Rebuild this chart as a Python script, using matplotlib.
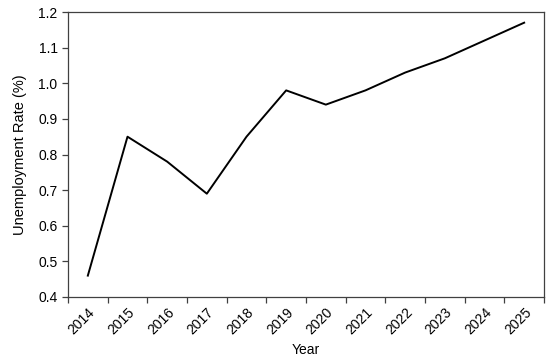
import numpy as np
import matplotlib.pyplot as plt

plt.rcParams['font.family'] = ['Liberation Sans', 'DejaVu Sans']

# Data
years = ['2014', '2015', '2016', '2017', '2018', '2019',
         '2020', '2021', '2022', '2023', '2024', '2025']
rate = [0.46, 0.85, 0.78, 0.69, 0.85, 0.98,
        0.94, 0.98, 1.03, 1.07, 1.12, 1.17]

fig = plt.figure(figsize=(5.5, 3.6), dpi=100)
ax = fig.add_axes([68 / 550, 1 - 297 / 360, (544 - 68) / 550, (297 - 12) / 360])

x = np.arange(len(years)) + 0.5
ax.plot(x, rate, color='black', linewidth=1.4)

ax.set_xlim(0, len(years))
ax.set_ylim(0.4, 1.2)
ax.set_yticks(np.arange(0.4, 1.21, 0.1))
ax.set_yticklabels([f'{v:.1f}' for v in np.arange(0.4, 1.21, 0.1)])

# boundary ticks, labels centred in between
ax.set_xticks(np.arange(len(years) + 1))
ax.set_xticklabels([])
ax.set_xticks(x, minor=True)
ax.set_xticklabels(years, minor=True, rotation=45, ha='right',
                   rotation_mode='anchor')
ax.tick_params(axis='x', which='minor', length=0, pad=6)
ax.tick_params(which='major', direction='out', length=4, width=0.9,
               color='#404040', labelsize=10)
ax.tick_params(which='minor', labelsize=10)

for s in ax.spines.values():
    s.set_color('#404040')
    s.set_linewidth(0.9)

ax.set_xlabel('Year', fontsize=10)
ax.set_ylabel('Unemployment Rate (%)', fontsize=10.5, labelpad=8)

fig.savefig('out.png', dpi=100)
